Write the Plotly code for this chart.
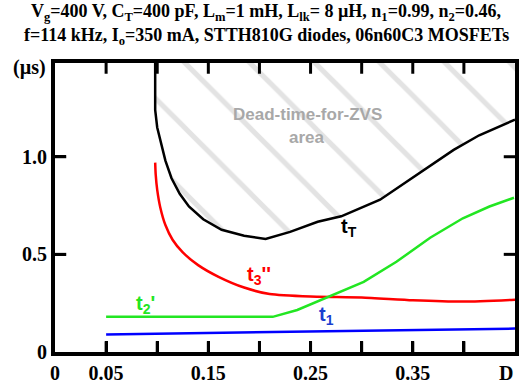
import plotly.graph_objects as go

# ---- data ----
d_t1 = [0.05, 0.15, 0.25, 0.35, 0.45]
t1 = [0.09, 0.098, 0.105, 0.113, 0.12]

d_t2 = [0.05, 0.213, 0.237, 0.265, 0.302, 0.334, 0.367, 0.399, 0.425, 0.449]
t2 = [0.18, 0.18, 0.215, 0.277, 0.359, 0.462, 0.585, 0.685, 0.745, 0.79]

d_t3 = [0.098, 0.0985, 0.1, 0.103, 0.108, 0.115, 0.125, 0.14, 0.16, 0.185, 0.21, 0.25, 0.3, 0.35, 0.4, 0.45]
t3 = [0.97, 0.91, 0.83, 0.74, 0.65, 0.575, 0.51, 0.445, 0.385, 0.33, 0.297, 0.284, 0.279, 0.265, 0.258, 0.268]

d_tT = [0.098, 0.098, 0.1, 0.103, 0.108, 0.114, 0.122, 0.131, 0.145, 0.163, 0.185, 0.206,
        0.23, 0.257, 0.28, 0.318, 0.351, 0.39, 0.415, 0.45]
tT = [1.48, 1.24, 1.15, 1.08, 0.98, 0.89, 0.81, 0.745, 0.68, 0.626, 0.595, 0.579,
      0.615, 0.667, 0.695, 0.78, 0.895, 1.035, 1.11, 1.19]

x_min, x_max = 0, 0.45
y_min, y_top = 0, 1.48
x_ticks = [0, 0.05, 0.1, 0.15, 0.2, 0.25, 0.3, 0.35, 0.4, 0.45]
x_ticktext = ["0", "0.05", "", "0.15", "", "0.25", "", "0.35", "", ""]
y_ticks = [0, 0.5, 1.0]
y_ticktext = ["0", "0.5", "1.0"]

title_lines = [
    "V<sub>g</sub>=400 V, C<sub>T</sub>=400 pF, L<sub>m</sub>=1 mH, L<sub>lk</sub>= 8 µH, n<sub>1</sub>=0.99, n<sub>2</sub>=0.46,",
    "f=114 kHz, I<sub>o</sub>=350 mA, STTH810G diodes, 06n60C3 MOSFETs",
]

fig = go.Figure()

fig.add_trace(go.Scatter(x=[d_tT[0], d_tT[-1]], y=[y_top, y_top], mode="lines",
                         line=dict(width=0), showlegend=False, hoverinfo="skip"))
fig.add_trace(go.Scatter(x=d_tT, y=tT, mode="lines", line=dict(color="black", width=2.5),
                         fill="tonexty", fillcolor="rgba(0,0,0,0)",
                         fillpattern=dict(shape="\\", fgcolor="#c8c8c8", bgcolor="rgba(255,255,255,0)",
                                          size=46, solidity=0.11),
                         showlegend=False))
fig.add_trace(go.Scatter(x=d_t3, y=t3, mode="lines", line=dict(color="#ff0000", width=2.5, shape="spline", smoothing=0.6), showlegend=False))
fig.add_trace(go.Scatter(x=d_t2, y=t2, mode="lines", line=dict(color="#22e622", width=2.5), showlegend=False))
fig.add_trace(go.Scatter(x=d_t1, y=t1, mode="lines", line=dict(color="#0000ff", width=2.5), showlegend=False))

# tick marks as short line segments from the tick value arrays (drawn through the axis scales)
inner_x = [v for v in x_ticks if x_min < v < x_max]
inner_y = [v for v in y_ticks if y_min < v < y_top]
tick_dy = 0.055   # tick length in data units of y (~11 px)
tick_dx = 0.011   # tick length in data units of x (~11 px)
tx, ty = [], []
for v in inner_x:
    tx += [v, v, None, v, v, None]
    ty += [y_min, y_min + tick_dy, None, y_top, y_top - tick_dy, None]
for v in inner_y:
    tx += [x_min, x_min + tick_dx, None, x_max, x_max - tick_dx, None]
    ty += [v, v, None, v, v, None]
fig.add_trace(go.Scatter(x=tx, y=ty, mode="lines", line=dict(color="black", width=3),
                         connectgaps=False, showlegend=False, hoverinfo="skip"))

serif = "Liberation Serif"
sans = "Liberation Sans"

ann = [
    dict(x=0.247, y=1.215, text="<b>Dead-time-for-ZVS</b>", font=dict(color="#a8a8a8", size=17, family=sans)),
    dict(x=0.247, y=1.097, text="<b>area</b>", font=dict(color="#a8a8a8", size=17, family=sans)),
    dict(x=0.288, y=0.64, text="<b>t<sub>T</sub></b>", font=dict(color="black", size=20, family=sans)),
    dict(x=0.2, y=0.39, text="<b>t<sub>3</sub>''</b>", font=dict(color="#ff0000", size=20, family=sans)),
    dict(x=0.089, y=0.245, text="<b>t<sub>2</sub>'</b>", font=dict(color="#22e622", size=20, family=sans)),
    dict(x=0.266, y=0.185, text="<b>t<sub>1</sub></b>", font=dict(color="#1a3fd0", size=20, family=sans)),
]
for a in ann:
    fig.add_annotation(xref="x", yref="y", showarrow=False, **a)

for i, line in enumerate(title_lines):
    fig.add_annotation(xref="paper", yref="paper", x=0.5, y=1, xanchor="center", yanchor="middle",
                       xshift=-19, yshift=51 - 24 * i, text="<b>" + line + "</b>", showarrow=False,
                       font=dict(family=serif, size=18, color="black"))

fig.add_annotation(xref="paper", yref="paper", x=0, y=1, xanchor="right", yanchor="middle",
                   xshift=-7, yshift=-4, text="<b>(µs)</b>", showarrow=False,
                   font=dict(family=serif, size=20, color="black"))
fig.add_annotation(xref="paper", yref="paper", x=1, y=0, xanchor="right", yanchor="top",
                   xshift=0, yshift=-8, text="<b>D</b>", showarrow=False,
                   font=dict(family=serif, size=20, color="black"))

fig.update_layout(
    width=521, height=386,
    margin=dict(l=55, r=2, t=63, b=34),
    paper_bgcolor="white", plot_bgcolor="white",
)
fig.update_xaxes(range=[x_min, x_max], tickmode="array", tickvals=x_ticks,
                 ticktext=["<b>" + t + "</b>" if t else "" for t in x_ticktext],
                 showgrid=False, zeroline=False, showline=True, linecolor="black", linewidth=4,
                 mirror=True, ticks="inside", ticklen=11, tickwidth=3, tickcolor="black",
                 tickfont=dict(family=serif, size=20, color="black"))
fig.update_yaxes(range=[y_min, y_top], tickmode="array", tickvals=y_ticks,
                 ticktext=["<b>" + t + "</b>" for t in y_ticktext],
                 showgrid=False, zeroline=False, showline=True, linecolor="black", linewidth=4,
                 mirror=True, ticks="inside", ticklen=11, tickwidth=3, tickcolor="black",
                 tickfont=dict(family=serif, size=20, color="black"))

fig.write_html("out.html")
